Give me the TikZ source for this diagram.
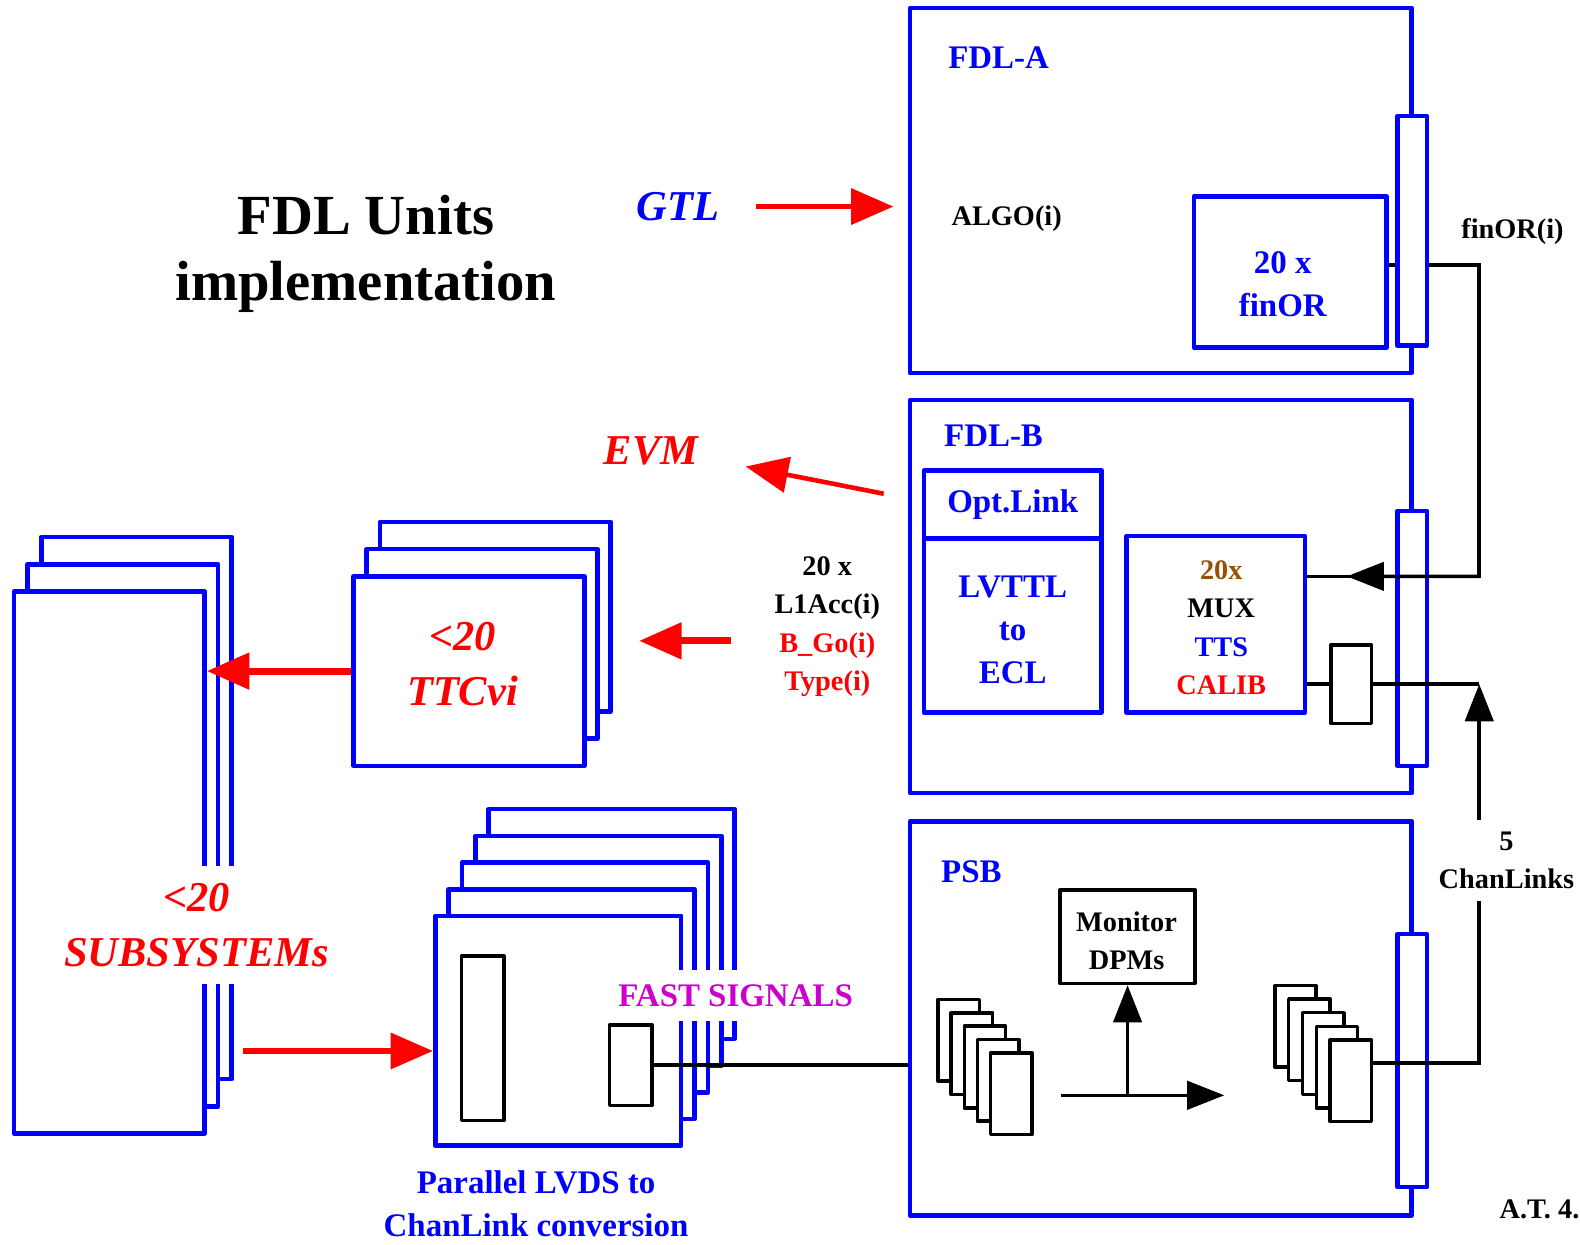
\documentclass[tikz,border=0pt]{standalone}
\usepackage{fontspec}
\setmainfont{Liberation Serif}
\usepackage{xcolor}
\usepackage{tikz}
\usetikzlibrary{calc,arrows.meta}
\definecolor{cblue}{RGB}{0,0,255}
\definecolor{cred}{RGB}{255,0,0}
\definecolor{cmag}{RGB}{204,0,204}
\definecolor{cbrown}{RGB}{153,80,0}
\newcommand\szTitle{\fontsize{16}{18.5}\selectfont\bfseries}
\newcommand\szBig{\fontsize{12}{15.3}\selectfont\bfseries\itshape}
\newcommand\szMed{\fontsize{9.3}{12.1}\selectfont\bfseries}
\newcommand\szSmall{\fontsize{8}{10.8}\selectfont\bfseries}

\begin{document}
\begin{tikzpicture}[
    x=0.1mm, y=-0.1mm,
    unit/.style={rectangle,draw=cblue,line width=1.3pt,fill=white,line join=round,inner sep=0pt},
    blk/.style={rectangle,draw=black,line width=1pt,fill=white,line join=round,inner sep=0pt},
    sz/.style 2 args={minimum width=0.1mm*#1,minimum height=0.1mm*#2},
    rarr/.style={-{Triangle[length=12pt,width=10pt]},line width=1.6pt,cred},
    barr/.style={-{Triangle[length=10.5pt,width=8pt]},line width=1pt},
    wire/.style={line width=1pt},
    lbl/.style={font=\szMed,text=#1,align=center},
    big/.style={font=\szBig,text=#1,align=center},
    sml/.style={font=\szSmall,align=center}
  ]
  \useasboundingbox (0,0) rectangle (1568,1235);

  \node[font=\szTitle,align=center] (title) at (363,252) {FDL Units\\implementation};
  \node[big=cblue] (gtl) at (673,205) {GTL};
  \node[big=cred]  (evm) at (646,447) {EVM};

  % FDL-A
  \node[unit,sz={498}{362}] (fdla) at (1152,189) {};
  \node[lbl=cblue] (fdlatxt) at (991,57) {FDL-A};
  \node[sml] (algo) at (999,217) {ALGO(i)};
  \node[unit,sz={191}{150}] (finor) at (1280.5,270) {};
  \node[lbl=cblue] (finorlbl) at (1273,282) {20 x\\finOR};

  % FDL-B
  \node[unit,sz={498}{390}] (fdlb) at (1152,592) {};
  \node[lbl=cblue] (fdlbtxt) at (986,432) {FDL-B};
  \node[unit,sz={176}{67},lbl=cblue] (optlink) at (1005,500.5) {Opt.Link};
  \node[unit,sz={176}{172}] (lvttl) at (1005,621) {};
  \node[lbl=cblue] (lvttllbl) at (1005,625) {LVTTL\\to\\ECL};
  \node[unit,sz={177}{175}] (mux) at (1206.5,619.5) {};
  \node[sml] (muxlbl) at (1212,623)
       {\textcolor{cbrown}{20x}\\MUX\\\textcolor{cblue}{TTS}\\\textcolor{cred}{CALIB}};
  \node[blk,sz={40}{78}] (buf) at (1341,679) {};
  \node[unit,sz={29}{253}] (stripb) at (1401.5,633.5) {};

  % PSB
  \node[unit,sz={498}{391}] (psb) at (1152,1010.5) {};
  \node[lbl=cblue] (psbtxt) at (964,865) {PSB};
  \node[blk,sz={134}{93}] (monitor) at (1119,929.5) {};
  \node[sml] (monlbl) at (1118,934) {Monitor\\DPMs};
  \foreach \i in {4,...,0}
    \node[blk,sz={41}{81}] (ls\i) at (1003.5-\i*13,1085.5-\i*13.3) {};
  \foreach \i in {4,...,0}
    \node[blk,sz={41}{81}] (rs\i) at (1340.5-\i*13.7,1072.5-\i*13.5) {};
  \node[unit,sz={29}{251}] (stripc) at (1401.5,1052.5) {};
  \coordinate (hs) at (1053,1087);
  \coordinate (he) at (1215,1087);
  \draw[barr] (hs) -- (he);
  \draw[barr] (hs -| monitor.south) -- (monitor.south);

  % wires on the right
  \coordinate (fa) at (1468,263);
  \coordinate (fb) at (1468,572);
  \coordinate (cl) at (1468,1055);
  \draw[wire] (finor.east |- fa) -- (fa) -- (fb) -- (fb -| mux.east);
  \draw[barr] (fb) -- ($(fb)!0.77!(fb -| mux.east)$);
  \draw[wire] (mux.east |- buf) -- (buf.west);
  \draw[wire] (buf.east) -- (cl |- buf.east);
  \draw[barr] (rs0.east |- cl) -- (cl) -- (cl |- buf.east);
  \node[unit,sz={29}{228}] (stripa) at (1401.5,229) {};
  \node[sml] (finortxt) at (1501,230) {finOR(i)};
  \node[sml,fill=white,inner sep=3.4pt] (chantxt) at (1495,854) {5\\ChanLinks};

  % TTCvi
  \foreach \i in {2,...,0}
    \node[unit,sz={229}{188}] (ttc\i) at (465.5+\i*13,666-\i*27) {};
  \node[big=cred] (ttclbl) at (459,659) {<20\\TTCvi};

  % subsystems
  \foreach \i in {2,...,0}
    \node[unit,sz={189}{538}] (sub\i) at (108.5+\i*13.5,856-\i*27) {};
  \node[big=cred,fill=white,inner sep=5pt] (subtxt) at (195,918) {<20\\SUBSYSTEMs};

  % fast signals
  \foreach \i in {4,...,0}
    \node[unit,sz={244}{228}] (fs\i) at (554+\i*13.25,1023-\i*26.5) {};
  \node[blk,sz={42}{163}] (fslong) at (479,1030.5) {};
  \node[blk,sz={42}{80}] (fsm) at (626,1057) {};
  \node[lbl=cmag,fill=white,inner xsep=1pt,inner ysep=4pt] (fasttxt) at (730,988) {FAST SIGNALS};
  \node[lbl=cblue] (convtxt) at (532,1195) {Parallel LVDS to\\ChanLink conversion};
  \draw[wire] (fsm.east) -- (fsm.east -| psb.west);

  % red arrows
  \coordinate (evmsrc) at (877,490);
  \coordinate (evmtip) at (740,463);
  \coordinate (l1src) at (725,636);
  \coordinate (subout) at (241,1043);
  \node[sml] (l1a) at (821,622)
       {20 x\\L1Acc(i)\\\textcolor{cred}{B\_Go(i)}\\\textcolor{cred}{Type(i)}};
  \draw[rarr,shorten <=2.4mm,shorten >=1.4mm] (gtl.east) -- (gtl.east -| fdla.west);
  \draw[rarr,line width=1.3pt] (evmsrc) -- (evmtip);
  \draw[rarr,line width=2pt,shorten >=2.6mm] (l1src) -- (l1src -| ttc2.east);
  \draw[rarr,line width=2pt] (ttc0.west) -- (ttc0.west -| sub0.east);
  \draw[rarr] (subout) -- (subout -| fs0.west);

  \node[sml,anchor=west,inner sep=1pt] (atxt) at (1484,1200) {A.T. 4.};
\end{tikzpicture}
\end{document}
